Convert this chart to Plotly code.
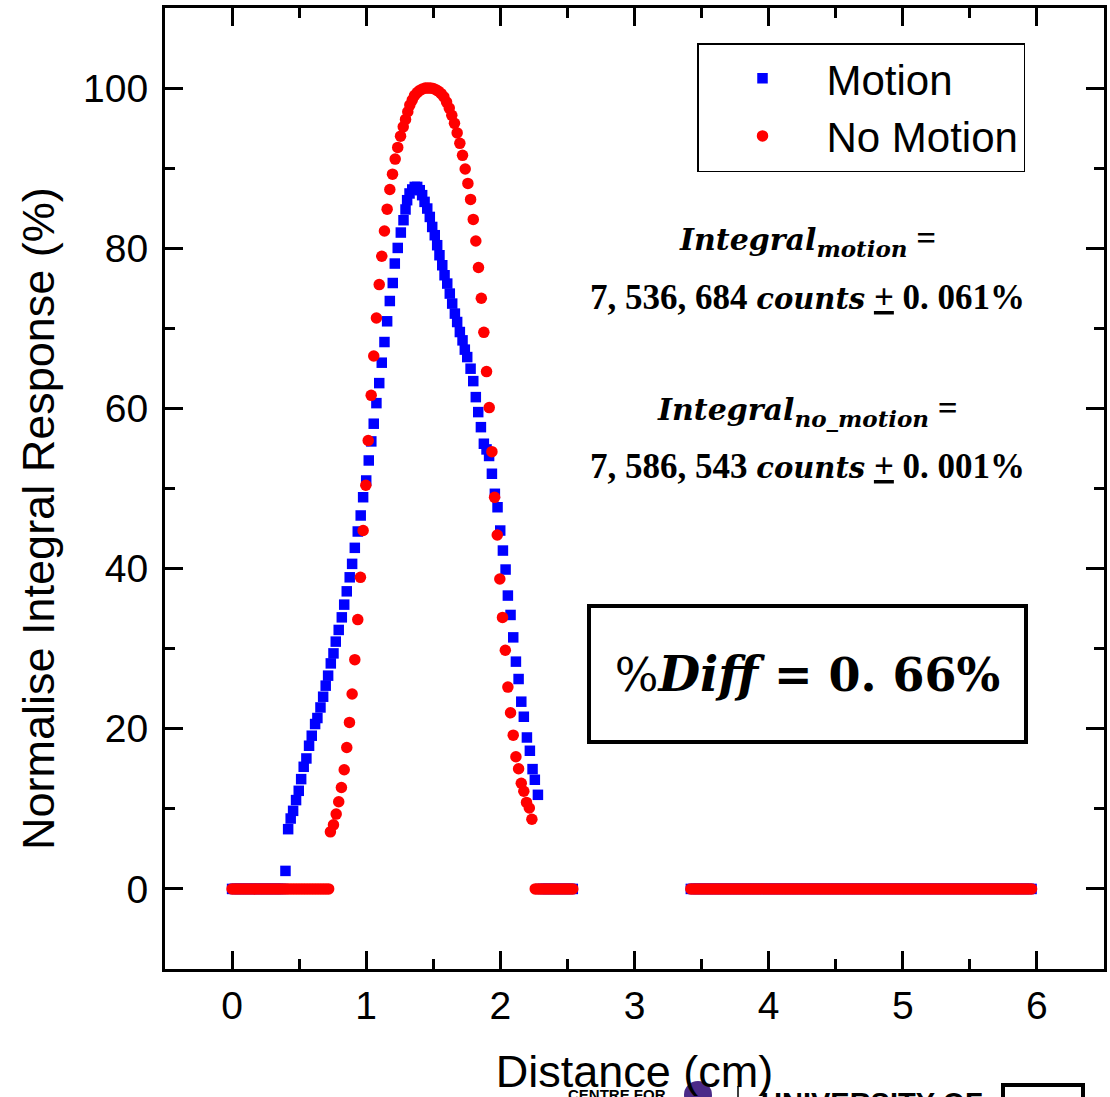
import plotly.graph_objects as go

# ---------------- data ----------------
# x positions where both curves read 0 (far tail)
tail_x = [
    3.42, 3.44, 3.46, 3.48, 3.50, 3.52, 3.54, 3.56, 3.58, 3.60,
    3.62, 3.64, 3.66, 3.68, 3.70, 3.72, 3.74, 3.76, 3.78, 3.80,
    3.82, 3.84, 3.86, 3.88, 3.90, 3.92, 3.94, 3.96, 3.98, 4.00,
    4.02, 4.04, 4.06, 4.08, 4.10, 4.12, 4.14, 4.16, 4.18, 4.20,
    4.22, 4.24, 4.26, 4.28, 4.30, 4.32, 4.34, 4.36, 4.38, 4.40,
    4.42, 4.44, 4.46, 4.48, 4.50, 4.52, 4.54, 4.56, 4.58, 4.60,
    4.62, 4.64, 4.66, 4.68, 4.70, 4.72, 4.74, 4.76, 4.78, 4.80,
    4.82, 4.84, 4.86, 4.88, 4.90, 4.92, 4.94, 4.96, 4.98, 5.00,
    5.02, 5.04, 5.06, 5.08, 5.10, 5.12, 5.14, 5.16, 5.18, 5.20,
    5.22, 5.24, 5.26, 5.28, 5.30, 5.32, 5.34, 5.36, 5.38, 5.40,
    5.42, 5.44, 5.46, 5.48, 5.50, 5.52, 5.54, 5.56, 5.58, 5.60,
    5.62, 5.64, 5.66, 5.68, 5.70, 5.72, 5.74, 5.76, 5.78, 5.80,
    5.82, 5.84, 5.86, 5.88, 5.90, 5.92, 5.94, 5.96,
]
tail_y = [
    0, 0, 0, 0, 0, 0, 0, 0, 0, 0, 0, 0, 0, 0, 0, 0, 0, 0, 0, 0,
    0, 0, 0, 0, 0, 0, 0, 0, 0, 0, 0, 0, 0, 0, 0, 0, 0, 0, 0, 0,
    0, 0, 0, 0, 0, 0, 0, 0, 0, 0, 0, 0, 0, 0, 0, 0, 0, 0, 0, 0,
    0, 0, 0, 0, 0, 0, 0, 0, 0, 0, 0, 0, 0, 0, 0, 0, 0, 0, 0, 0,
    0, 0, 0, 0, 0, 0, 0, 0, 0, 0, 0, 0, 0, 0, 0, 0, 0, 0, 0, 0,
    0, 0, 0, 0, 0, 0, 0, 0, 0, 0, 0, 0, 0, 0, 0, 0, 0, 0, 0, 0,
    0, 0, 0, 0, 0, 0, 0, 0,
]

# Motion (blue squares)
motion_zero_x = [
    0.00, 0.02, 0.04, 0.06, 0.08, 0.10, 0.12, 0.14, 0.16, 0.18,
    0.20, 0.22, 0.24, 0.26, 0.28, 0.30, 0.32, 0.34, 0.36, 0.38,
    2.30, 2.32, 2.34, 2.36, 2.38, 2.40, 2.42, 2.44, 2.46, 2.48,
    2.50, 2.52, 2.54,
]
motion_zero_y = [
    0, 0, 0, 0, 0, 0, 0, 0, 0, 0, 0, 0, 0, 0, 0, 0, 0, 0, 0, 0,
    0, 0, 0, 0, 0, 0, 0, 0, 0, 0, 0, 0, 0,
]
motion_x = [
    0.398, 0.418, 0.437, 0.455, 0.477, 0.497, 0.515, 0.534, 0.554, 0.574,
    0.594, 0.619, 0.636, 0.659, 0.679, 0.698, 0.716, 0.736, 0.756, 0.773,
    0.795, 0.818, 0.836, 0.855, 0.877, 0.895, 0.915, 0.937, 0.959, 0.977,
    1.000, 1.019, 1.038, 1.056, 1.076, 1.097, 1.116, 1.136, 1.156, 1.176,
    1.198, 1.213, 1.235, 1.258, 1.278, 1.293, 1.305, 1.323, 1.343, 1.362,
    1.380, 1.399, 1.417, 1.435, 1.455, 1.474, 1.492, 1.511, 1.529, 1.546,
    1.567, 1.584, 1.604, 1.623, 1.641, 1.661, 1.678, 1.698, 1.718, 1.735,
    1.753, 1.778, 1.798, 1.817, 1.835, 1.855, 1.877, 1.897, 1.916, 1.937,
    1.959, 1.979, 1.999, 2.019, 2.039, 2.056, 2.076, 2.096, 2.116, 2.136,
    2.156, 2.175, 2.198, 2.220, 2.240, 2.257, 2.280,
]
motion_y = [
    2.25, 7.46, 8.79, 9.75, 11.09, 12.25, 13.71, 15.25, 16.29, 17.88,
    19.13, 20.59, 21.34, 22.66, 24.00, 25.38, 26.63, 28.16, 29.41, 30.88,
    32.34, 33.91, 35.50, 37.16, 38.91, 40.59, 42.59, 44.63, 46.63, 48.91,
    51.00, 53.50, 55.88, 58.09, 60.66, 63.16, 65.71, 68.29, 70.88, 73.41,
    75.66, 78.09, 80.04, 81.96, 83.50, 84.84, 86.00, 86.84, 87.34, 87.66,
    87.66, 87.25, 86.63, 85.79, 84.96, 83.91, 82.66, 81.63, 80.38, 79.13,
    77.88, 76.63, 75.59, 74.34, 73.09, 71.84, 70.79, 69.54, 68.50, 67.34,
    66.41, 64.96, 63.41, 61.41, 59.54, 57.66, 55.59, 54.88, 54.06, 51.84,
    49.34, 47.66, 44.75, 42.25, 39.88, 36.63, 34.21, 31.41, 28.38, 26.21,
    23.38, 21.50, 18.91, 17.25, 14.96, 13.63, 11.75,
]

# No Motion (red circles)
nomotion_zero_x = [
    0.00, 0.02, 0.04, 0.06, 0.08, 0.10, 0.12, 0.14, 0.16, 0.18,
    0.20, 0.22, 0.24, 0.26, 0.28, 0.30, 0.32, 0.34, 0.36, 0.38,
    0.40, 0.42, 0.44, 0.46, 0.48, 0.50, 0.52, 0.54, 0.56, 0.58,
    0.60, 0.62, 0.64, 0.66, 0.68, 0.70, 0.72,
    2.26, 2.28, 2.30, 2.32, 2.34, 2.36, 2.38, 2.40, 2.42, 2.44,
    2.46, 2.48, 2.50, 2.52, 2.54,
]
nomotion_zero_y = [
    0, 0, 0, 0, 0, 0, 0, 0, 0, 0, 0, 0, 0, 0, 0, 0, 0, 0, 0, 0,
    0, 0, 0, 0, 0, 0, 0, 0, 0, 0, 0, 0, 0, 0, 0, 0, 0,
    0, 0, 0, 0, 0, 0, 0, 0, 0, 0, 0, 0, 0, 0, 0,
]
nomotion_x = [
    0.733, 0.756, 0.776, 0.795, 0.815, 0.836, 0.855, 0.875, 0.895, 0.915,
    0.937, 0.957, 0.977, 0.997, 1.015, 1.037, 1.056, 1.076, 1.097, 1.116,
    1.136, 1.156, 1.176, 1.196, 1.216, 1.235, 1.256, 1.276, 1.293, 1.310,
    1.325, 1.343, 1.360, 1.380, 1.399, 1.420, 1.440, 1.459, 1.479, 1.499,
    1.519, 1.539, 1.559, 1.579, 1.599, 1.619, 1.638, 1.658, 1.678, 1.698,
    1.718, 1.738, 1.758, 1.778, 1.798, 1.817, 1.837, 1.858, 1.877, 1.897,
    1.917, 1.937, 1.957, 1.977, 1.996, 2.016, 2.037, 2.056, 2.076, 2.096,
    2.116, 2.136, 2.156, 2.175, 2.195, 2.216, 2.235,
]
nomotion_y = [
    7.13, 8.00, 9.34, 10.88, 12.66, 14.88, 17.66, 20.79, 24.34, 28.63,
    33.63, 38.91, 44.75, 50.41, 56.00, 61.63, 66.54, 71.29, 75.46, 79.00,
    82.16, 84.88, 87.34, 89.25, 91.13, 92.59, 94.00, 95.16, 96.09, 97.04,
    97.88, 98.50, 99.06, 99.44, 99.71, 99.90, 100.0, 100.0, 100.0, 99.96,
    99.80, 99.60, 99.30, 98.90, 98.25, 97.50, 96.60, 95.60, 94.40, 93.10,
    91.60, 89.90, 88.10, 86.10, 83.60, 80.90, 77.60, 73.75, 69.50, 64.60,
    60.10, 54.60, 48.90, 44.20, 38.70, 33.90, 29.80, 25.20, 22.00, 19.20,
    16.50, 15.00, 13.20, 12.20, 10.80, 10.10, 8.70,
]

x_ticks = [0, 1, 2, 3, 4, 5, 6]
y_ticks = [0, 20, 40, 60, 80, 100]

# ---------------- figure ----------------
SANS = "Liberation Sans, Arial, sans-serif"
SERIF = "Liberation Serif, Times New Roman, serif"
MATH = "font-family:'DejaVu Serif'"

mx = motion_zero_x[:20] + motion_x + motion_zero_x[20:] + tail_x
my = motion_zero_y[:20] + motion_y + motion_zero_y[20:] + tail_y
nx = nomotion_zero_x[:37] + nomotion_x + nomotion_zero_x[37:] + tail_x
ny = nomotion_zero_y[:37] + nomotion_y + nomotion_zero_y[37:] + tail_y

fig = go.Figure()
fig.add_trace(go.Scatter(
    x=mx, y=my, mode="markers", name="Motion",
    marker=dict(symbol="square", size=10.5, color="#0000FF", line=dict(width=0)),
))
fig.add_trace(go.Scatter(
    x=nx, y=ny, mode="markers", name="No Motion",
    marker=dict(symbol="circle", size=11.5, color="#FF0000", line=dict(width=0)),
))

axis_common = dict(
    showline=True, linewidth=3, linecolor="black", mirror="ticks",
    ticks="inside", ticklen=18, tickwidth=3, tickcolor="black",
    showgrid=False, zeroline=False,
    tickfont=dict(family=SANS, size=39, color="black"),
)

fig.update_xaxes(
    range=[-0.5, 6.5], tickvals=x_ticks, ticktext=[str(v) for v in x_ticks],
    minor=dict(ticks="inside", ticklen=10, tickwidth=3, tickcolor="black", dtick=0.5, tick0=0.5, showgrid=False),
    title=dict(text="Distance (cm)", font=dict(family=SANS, size=45, color="black"), standoff=31),
    ticklabelstandoff=0,
    **axis_common,
)
fig.update_yaxes(
    range=[-10, 110], tickvals=y_ticks, ticktext=[str(v) for v in y_ticks],
    minor=dict(ticks="inside", ticklen=10, tickwidth=3, tickcolor="black", dtick=10, tick0=10, showgrid=False),
    ticklabelstandoff=6,
    **axis_common,
)

PW, PH, L, T = 939.0, 961.0, 165.0, 8.0
def px(x):
    return (x - L) / PW
def py(y):
    return (T + PH - y) / PH

def it(s, size):
    return f"<span style=\"{MATH};font-size:{size}px\"><b><i>{s}</i></b></span>"

line1 = it("Integral", 30) + "<sub>" + it("motion", 23) + "</sub><b> =</b>"
line2 = "<b>7, 536, 684 </b>" + it("counts", 29) + "<b> <u>+</u> 0. 061%</b>"
line3 = it("Integral", 30) + "<sub>" + it("no_motion", 23) + "</sub><b> =</b>"
line4 = "<b>7, 586, 543 </b>" + it("counts", 29) + "<b> <u>+</u> 0. 001%</b>"
diff = ("<span style=\"" + MATH + "\">%</span>" + it("Diff", 48)
        + "<span style=\"" + MATH + "\"><b> = 0. 66%</b></span>")

annotations = [
    dict(text="Normalise Integral Response (%)", textangle=-90,
         x=px(38), y=py(519), xref="paper", yref="paper", showarrow=False,
         xanchor="center", yanchor="middle",
         font=dict(family=SANS, size=45, color="black")),
    dict(text=line1, x=px(807), y=py(241), xref="paper", yref="paper", showarrow=False,
         xanchor="center", yanchor="middle", font=dict(family=SERIF, size=35, color="black")),
    dict(text=line2, x=px(807), y=py(297), xref="paper", yref="paper", showarrow=False,
         xanchor="center", yanchor="middle", font=dict(family=SERIF, size=35, color="black")),
    dict(text=line3, x=px(807), y=py(410), xref="paper", yref="paper", showarrow=False,
         xanchor="center", yanchor="middle", font=dict(family=SERIF, size=35, color="black")),
    dict(text=line4, x=px(807), y=py(466), xref="paper", yref="paper", showarrow=False,
         xanchor="center", yanchor="middle", font=dict(family=SERIF, size=35, color="black")),
    dict(text=diff, x=px(807.5), y=py(674), xref="paper", yref="paper", showarrow=False,
         xanchor="center", yanchor="middle", width=433, height=132,
         bordercolor="black", borderwidth=4, borderpad=0, bgcolor="white",
         font=dict(family=SERIF, size=46, color="black")),
    # partially visible logo at the bottom edge
    dict(text="<b>CENTRE FOR</b>", x=px(566), y=py(1084), xref="paper", yref="paper",
         showarrow=False, xanchor="left", yanchor="top",
         font=dict(family=SANS, size=15, color="black")),
    dict(text="<b>UNIVERSITY OF</b>", x=px(759), y=py(1085), xref="paper", yref="paper",
         showarrow=False, xanchor="left", yanchor="top",
         font=dict(family=SANS, size=29, color="black")),
]

shapes = [
    dict(type="circle", xref="paper", yref="paper", x0=px(684), x1=px(712),
         y0=py(1109), y1=py(1081), fillcolor="#4b2a88", line=dict(width=0)),
    dict(type="line", xref="paper", yref="paper", x0=px(738), x1=px(738),
         y0=py(1086), y1=py(1110), line=dict(color="black", width=1.5)),
    dict(type="rect", xref="paper", yref="paper", x0=px(1003), x1=px(1083),
         y0=py(1120), y1=py(1085), line=dict(color="black", width=4)),
]

fig.update_layout(
    width=1110, height=1097,
    margin=dict(l=165, r=6, t=8, b=128, autoexpand=False),
    paper_bgcolor="white", plot_bgcolor="white",
    showlegend=True,
    legend=dict(
        x=px(697), y=py(43), xanchor="left", yanchor="top",
        bordercolor="black", borderwidth=1.5, bgcolor="white",
        font=dict(family=SANS, size=42, color="black"),
        itemwidth=118, tracegroupgap=0,
    ),
    annotations=annotations,
    shapes=shapes,
)

fig.write_html("out.html")
